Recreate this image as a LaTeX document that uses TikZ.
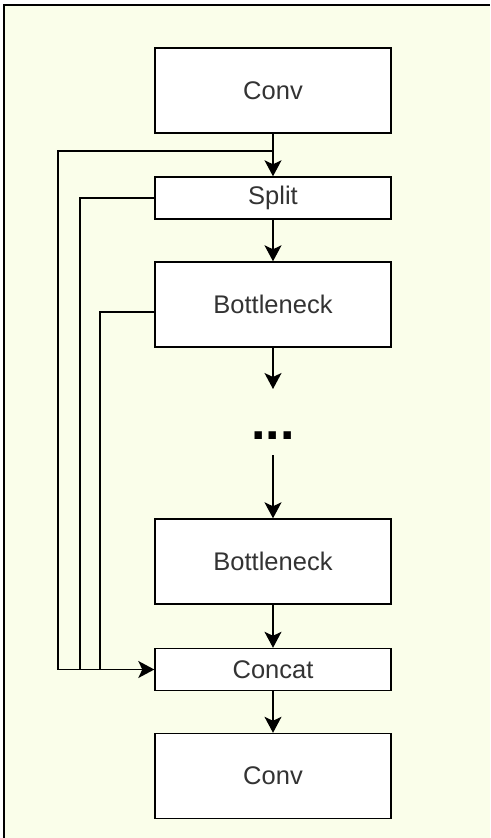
\documentclass[tikz,border=0pt]{standalone}
\usepackage{fontspec}
\setmainfont{Liberation Sans}
\usetikzlibrary{arrows.meta}
\definecolor{paper}{RGB}{250,254,234}
\definecolor{ink}{RGB}{51,51,51}
\begin{document}
\begin{tikzpicture}[x=1pt,y=-1pt,
  block/.style={draw=black, line width=1.4pt, fill=white, minimum width=236pt,
    inner sep=0pt, text=ink, font=\fontsize{25.5}{30}\selectfont},
  tall/.style={block, minimum height=85pt},
  flat/.style={block, minimum height=42pt},
  flow/.style={line width=1.4pt, -{Stealth[length=16pt,width=17pt,inset=4pt]}},
  wire/.style={line width=1.4pt}]
  \useasboundingbox (0,0) rectangle (490,838);
  % page panel
  \fill[paper] (4,5) rectangle (490,838);
  \draw[line width=2pt] (4,838) -- (4,5) -- (490,5);

  % blocks of the stage
  \node[tall] (conv1)  at (273,90.5) {Conv};
  \node[flat] (split)  at (273,198)  {Split};
  \node[tall] (bn1)    at (273,304.5) {Bottleneck};
  \node[tall] (bn2)    at (273,561.5) {Bottleneck};
  \node[flat] (concat) at (273,669.5) {Concat};
  \node[tall] (conv2)  at (273,776)  {Conv};

  % elided repeated bottlenecks
  \node[anchor=base, inner sep=0pt, font=\fontsize{52}{52}\bfseries\selectfont]
    (dots) at (273,439.5) {...};
  \coordinate (gapin)  at (273,389);
  \coordinate (gapout) at (273,455);

  % main path
  \coordinate (tap) at (273,151);
  \draw[flow] (conv1.south) -- (split.north);
  \draw[flow] (split.south) -- (bn1.north);
  \draw[flow] (bn1.south) -- (gapin);
  \draw[flow] (gapout) -- (bn2.north);
  \draw[flow] (bn2.south) -- (concat.north);
  \draw[flow] (concat.south) -- (conv2.north);

  % skip connections into the concatenation
  \coordinate (bnout) at ([yshift=-7.5pt]bn1.west);
  \draw[wire] (tap) -| (58,669.5) -- (concat.west);
  \draw[wire] (split.west) -| (80,669.5);
  \draw[wire] (bnout) -| (100,669.5);
  \draw[flow] (58,669.5) -- (concat.west);
\end{tikzpicture}
\end{document}
